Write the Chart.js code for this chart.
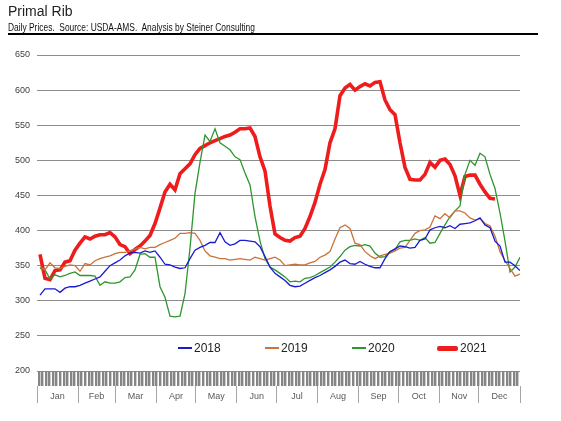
<!DOCTYPE html>
<html>
<head>
<meta charset="utf-8">
<script src="https://cdn.jsdelivr.net/npm/chart.js@4.4.1/dist/chart.umd.min.js"></script>
<style>
  body { margin: 0; background: #fff; }
  #wrap { position: relative; width: 561px; height: 421px; overflow: hidden; }
  #ribChart { position: absolute; left: 0; top: 0; }
  #title { position: absolute; left: 8px; top: 3px; font: 14px "Liberation Sans", Arial, sans-serif; color: #222; }
  #sub { position: absolute; left: 8px; top: 22px; font: 10px "Liberation Sans", Arial, sans-serif; color: #111; white-space: pre; transform: scaleX(0.84); transform-origin: left top; }
  #rule { position: absolute; left: 8px; top: 33px; width: 530px; height: 2px; background: #000; }
  .lg { position: absolute; top: 340px; height: 16px; font: 12px "Liberation Sans", Arial, sans-serif; color: #222; display: flex; align-items: center; }
  .lg span.mark { display: inline-block; margin-right: 2px; }
</style>
</head>
<body>
<div id="wrap">
  <canvas id="ribChart" width="561" height="421"></canvas>
  <div id="title">Primal Rib</div>
  <div id="sub">Daily Prices.  Source: USDA-AMS.  Analysis by Steiner Consulting</div>
  <div id="rule"></div>
</div>
<script>
// month axis
const months = ["Jan", "Feb", "Mar", "Apr", "May", "Jun", "Jul", "Aug", "Sep", "Oct", "Nov", "Dec"];
const monthDays = [31, 28, 31, 30, 31, 30, 31, 31, 30, 31, 30, 31];

// prices sampled at regular steps across the year ($/cwt)
const y2018 = [
  308, 317, 317, 317, 312, 318, 320, 320, 322, 325,
  328, 331, 334, 342, 350, 354, 358, 364, 368, 369,
  368, 371, 369, 371, 362, 352, 351, 348, 346, 347,
  360, 372, 376, 379, 383, 383, 397, 384, 379, 381,
  386, 386, 385, 384, 377, 363, 348, 339, 334, 329,
  322, 320, 321, 325, 329, 333, 336, 340, 344, 349,
  355, 358, 353, 352, 356, 352, 349, 347, 347, 360,
  370, 374, 378, 377, 375, 376, 386, 388, 401, 404,
  406, 404, 407, 403, 409, 410, 411, 414, 418, 408,
  404, 385, 378, 355, 355, 350, 343
];
const y2019 = [
  348, 344, 354, 347, 346, 349, 351, 350, 342, 353,
  351, 357, 360, 362, 364, 367, 369, 369, 371, 374,
  376, 374, 376, 376, 380, 383, 386, 389, 396, 396,
  397, 396, 386, 371, 364, 362, 360, 360, 358, 359,
  360, 359, 358, 362, 360, 358, 360, 362, 358, 350,
  351, 352, 351, 351, 354, 356, 362, 365, 370, 388,
  404, 408, 403, 382, 380, 370, 364, 360, 364, 366,
  368, 371, 375, 376, 386, 396, 400, 401, 405, 421,
  417, 424, 418, 428, 428, 425, 418, 415, 417, 410,
  407, 392, 370, 357, 346, 335, 338
];
const y2020 = [
  346, 344, 331, 337, 334, 336, 339, 341, 336, 336,
  336, 335, 322, 327, 325, 325, 327, 333, 334, 344,
  366, 367, 362, 362, 320, 305, 278, 277, 278, 310,
  375, 453, 497, 536, 527, 545, 525, 520, 515, 505,
  501, 482, 465, 420, 385, 360, 348, 344, 339, 334,
  327, 328, 327, 332, 333, 336, 340, 344, 348, 355,
  363, 372, 377, 379, 378, 380, 378, 368, 362, 363,
  370, 373, 384, 386, 386, 388, 386, 390, 382, 383,
  396, 408, 420, 428, 435, 480, 500, 493, 510, 505,
  480, 460, 425, 385, 341, 348, 362
];
const y2021 = [
  366, 332, 330, 343, 344, 355, 357, 372, 382, 391,
  388, 392, 394, 394, 397, 391, 380, 377, 367, 373,
  378, 385, 393, 410, 432, 455, 466, 458, 481, 488,
  495, 508, 517, 521, 525, 528, 531, 534, 536, 540,
  545, 545, 546, 534, 505, 485, 435, 395, 390, 386,
  385, 390, 392, 403, 420, 440, 466, 487, 525, 545,
  592, 603, 608, 600, 605, 609, 606, 611, 612, 586,
  572, 565, 525, 490, 473, 472, 472, 480, 497, 490,
  500, 502, 494, 478, 450, 477, 479, 479, 466, 455,
  446, 445, null, null, null, null, null
];

const yMin = 200, yMax = 650, yStep = 50;

const toPoints = arr => arr.map((v, i) => ({ x: i, y: v }));

// tick marks for the bottom band: one every few days, month separators below
const barStep = 2.7;
const barTicks = [];
for (let d = barStep / 2; d < 365; d += barStep) barTicks.push({ value: d });

const monthTicks = [];
let start = 0;
monthDays.forEach((n, i) => {
  monthTicks.push({ value: start });
  monthTicks.push({ value: start + n / 2 });
  start += n;
});
monthTicks.push({ value: start });

const series = [
  { label: "2018", data: y2018, color: "#1a1ad0", width: 1.3 },
  { label: "2019", data: y2019, color: "#c8733a", width: 1.3 },
  { label: "2020", data: y2020, color: "#2e962e", width: 1.3 },
  { label: "2021", data: y2021, color: "#ee1c1c", width: 3.6 }
];

const chart = new Chart("ribChart", {
  type: "line",
  data: {
    datasets: series.map(s => ({
      label: s.label,
      data: toPoints(s.data),
      borderColor: s.color,
      backgroundColor: s.color,
      borderWidth: s.width,
      pointRadius: 0,
      tension: 0,
      xAxisID: "x",
      yAxisID: "y"
    }))
  },
  options: {
    responsive: false,
    animation: false,
    devicePixelRatio: 1,
    layout: { padding: { top: 55, right: 41, bottom: 3, left: 0 } },
    plugins: {
      legend: { display: false },
      tooltip: { enabled: false }
    },
    scales: {
      x: { type: "linear", display: false, min: -0.6, max: 96 },
      y: {
        min: yMin,
        max: yMax,
        ticks: {
          stepSize: yStep,
          padding: 7,
          color: "#404040",
          font: { size: 9, family: "Liberation Sans" }
        },
        grid: { color: "#8c8c8c", lineWidth: 1, drawTicks: false },
        border: { display: false },
        afterFit(scale) { scale.width = 37; }
      },
      band: {
        type: "linear",
        position: "bottom",
        weight: 1,
        min: 0,
        max: 365,
        afterBuildTicks(scale) { scale.ticks = barTicks.slice(); },
        ticks: { display: false, autoSkip: false },
        grid: { drawOnChartArea: false, tickLength: 15, lineWidth: 2.4, color: "#858585" },
        border: { display: false },
        afterFit(scale) { scale.height = 15; }
      },
      month: {
        type: "linear",
        position: "bottom",
        weight: 2,
        min: 0,
        max: 365,
        afterBuildTicks(scale) { scale.ticks = monthTicks.map(t => ({ value: t.value })); },
        ticks: {
          autoSkip: false,
          maxRotation: 0,
          padding: -12,
          color: "#595959",
          font: { size: 9, family: "Liberation Sans" },
          callback: (v, i) => (i % 2 ? months[(i - 1) / 2] : "")
        },
        grid: {
          drawOnChartArea: false,
          tickLength: 17,
          lineWidth: 1,
          color: ctx => (ctx.index % 2 ? "rgba(0,0,0,0)" : "#a6a6a6")
        },
        border: { display: false },
        afterFit(scale) { scale.height = 32; }
      }
    }
  }
});

// legend sits inside the plot, under the lines
const legendLeft = [178, 265, 352, 437];
const wrap = document.getElementById("wrap");
chart.data.datasets.forEach((ds, i) => {
  const item = document.createElement("div");
  item.className = "lg";
  item.style.left = legendLeft[i] + "px";
  const mark = document.createElement("span");
  mark.className = "mark";
  const thick = ds.borderWidth > 2;
  mark.style.width = (thick ? 21 : 14) + "px";
  mark.style.height = (thick ? 5 : 1.3) + "px";
  mark.style.borderRadius = thick ? "2px" : "0";
  mark.style.background = ds.borderColor;
  item.appendChild(mark);
  item.appendChild(document.createTextNode(ds.label));
  wrap.appendChild(item);
});
</script>
</body>
</html>
